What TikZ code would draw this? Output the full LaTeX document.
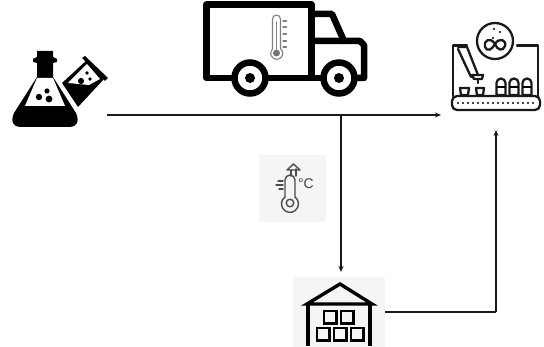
\documentclass[tikz,border=0pt]{standalone}
\usepackage{fontspec}
\setmainfont{Liberation Sans}
\usetikzlibrary{arrows.meta}
\tikzset{
  conn/.style={draw=black!90,line width=1.3pt,-{Stealth[length=6pt,width=5pt]}},
  connplain/.style={draw=black!90,line width=1.3pt},
  truckline/.style={draw=black,line width=6.5pt,line join=round,line cap=round},
  labline/.style={draw=black!90,line width=2.3pt,line join=round,line cap=round},
  storeline/.style={draw=black,line width=3.4pt,line join=miter},
  gaugeline/.style={draw=black!50,line width=1.1pt,line cap=round},
  iconline/.style={draw=black!70,line width=1.4pt,line cap=round,line join=round},
  panel/.style={fill=black!4,draw=none},
}
\begin{document}
\begin{tikzpicture}[x=1pt,y=-1pt]
\useasboundingbox (0,0) rectangle (544,347);
% ---------- panels
\fill[panel] (259,155) rectangle (326,222);
\fill[panel] (293,277) rectangle (385,347);
% ---------- flask
\fill[black] (37,51) -- (53,51) -- (53,57) -- (57,59) -- (57,62) -- (53,63) -- (53,77)
  -- (76,113) .. controls (80,122) and (76,127) .. (70,127) -- (20,127) .. controls (14,127) and (10,122) .. (14,113)
  -- (37,77) -- (37,63) -- (33,62) -- (33,59) -- (37,57) -- cycle;
\fill[white] (37,78) -- (53,78) -- (65,106) -- (25,106) -- cycle;
\fill[black] (39,97) circle (3.2) (47,91) circle (2.6) (49,99) circle (3.4);
% ---------- tube
\fill[black] (62,83) -- (87,60) -- (104,79) -- (78,107) -- cycle;
\fill[black] (82,58) -- (85,56) -- (108,78) -- (105,81) -- cycle;
\fill[white] (68,83) -- (87,64) -- (100,79) -- (89,85) -- cycle;
\fill[black] (81,81) circle (3.1) (87,73) circle (1.8) (90,79) circle (1.8);
% ---------- truck
\draw[truckline] (206.5,78) -- (206.5,4.5) -- (311.5,4.5) -- (311.5,78) -- cycle;
\draw[truckline] (315,14) -- (332,14) -- (344,41);
\draw[truckline] (315,41) -- (360,41) -- (364,45) -- (364,78) -- (355,78);
\draw[truckline] (313,78) -- (325,78);
\fill[white] (250,78) circle (18);
\draw[black,line width=6.5pt] (250,78) circle (15.5);
\fill[black] (250,78) circle (5);
\fill[white] (339,78) circle (18);
\draw[black,line width=6.5pt] (339,78) circle (15.5);
\fill[black] (339,78) circle (5);
\draw[gaugeline] (272.5,49) -- (272.5,19) arc[start angle=180,end angle=360,radius=4] -- (280.5,49);
\draw[gaugeline] (272.5,49) arc[start angle=225,end angle=-45,radius=6];
\fill[black!55] (276.5,53) circle (3.5);
\draw[gaugeline] (276.5,22) -- (276.5,50);
\foreach \ty in {21,27,34,41,47} \draw[gaugeline] (283,\ty) -- (286.5,\ty);
% ---------- lab machine
\draw[labline] (495,41) circle (18);
\draw[labline] (495,44) .. controls (490,36) and (483,41) .. (485,47) .. controls (487,52) and (492,50) .. (495,44)
  .. controls (499,37) and (507,40) .. (505,46) .. controls (503,52) and (497,50) .. (495,44);
\fill[black] (494,29) circle (1.2) (500,32) circle (1.2) (493,38) circle (1.2);
\draw[labline] (467,45.5) -- (453,45.5) -- (453,96);
\draw[labline] (517,45.5) -- (538,45.5) -- (538,96);
\draw[labline] (458,47) -- (467,47) -- (478,75);
\draw[labline] (458,49) -- (471,77);
\draw[labline] (472,75) -- (483,75) -- (482,79) -- (474,79) -- cycle;
\draw[labline] (478,80) -- (478,83);
\draw[labline] (460,88) -- (469,88) -- (468,95) -- (461,95) -- cycle;
\draw[labline] (476,88) -- (484,88) -- (483,95) -- (477,95) -- cycle;
\foreach \cx in {501,514,527}{
  \draw[labline] (\cx-4.5,95) -- (\cx-4.5,83) arc[start angle=180,end angle=360,radius=4.5] -- (\cx+4.5,95) -- cycle;
  \draw[draw=black,line width=1.6pt] (\cx-4.5,87) -- (\cx+4.5,87);
}
\draw[labline,rounded corners=5pt] (452,96) rectangle (540,110);
\foreach \i in {0,...,15} \fill[black] (458+\i*5,103) circle (1.2);
% ---------- thermometer icon
\draw[iconline] (285,197) -- (285,180) arc[start angle=180,end angle=360,radius=5] -- (295,197);
\draw[iconline] (285,197) arc[start angle=234,end angle=-54,radius=8.5];
\draw[iconline] (290,203) circle (3.8);
\draw[iconline] (291,170) -- (291,176);
\draw[iconline] (296,169) -- (296,176);
\draw[iconline] (287,170) -- (293.5,164) -- (300,170) -- cycle;
\foreach \ty/\tx in {181/278,185/276,189/279} \draw[iconline] (\tx,\ty) -- (283,\ty);
\node[inner sep=0pt,text=black!75,font=\fontsize{14}{14}\selectfont] (degc) at (306,184) {°C};
% ---------- warehouse
\draw[storeline] (307,304) -- (340,284) -- (372,304) -- cycle;
\draw[storeline] (308,304) -- (308,346);
\draw[storeline] (370,304) -- (370,346);
\foreach \bx/\by in {324/311,341/311,317/328,334/328,351/328}
  \draw[black,line width=2.8pt] (\bx,\by) rectangle ++(12.5,12.5);
% ---------- connectors
\coordinate (flaskout) at (107,115);
\coordinate (labin) at (441,115);
\coordinate (branch) at (341,115);
\coordinate (storein) at (341,272);
\coordinate (storeout) at (385,312);
\coordinate (labbottom) at (496,130);
\coordinate (corner) at (496,312);
\draw[conn] (flaskout) -- (labin);
\draw[conn] (branch) -- (storein);
\draw[connplain] (storeout) -- (corner);
\draw[conn] (corner) -- (labbottom);
\end{tikzpicture}
\end{document}
